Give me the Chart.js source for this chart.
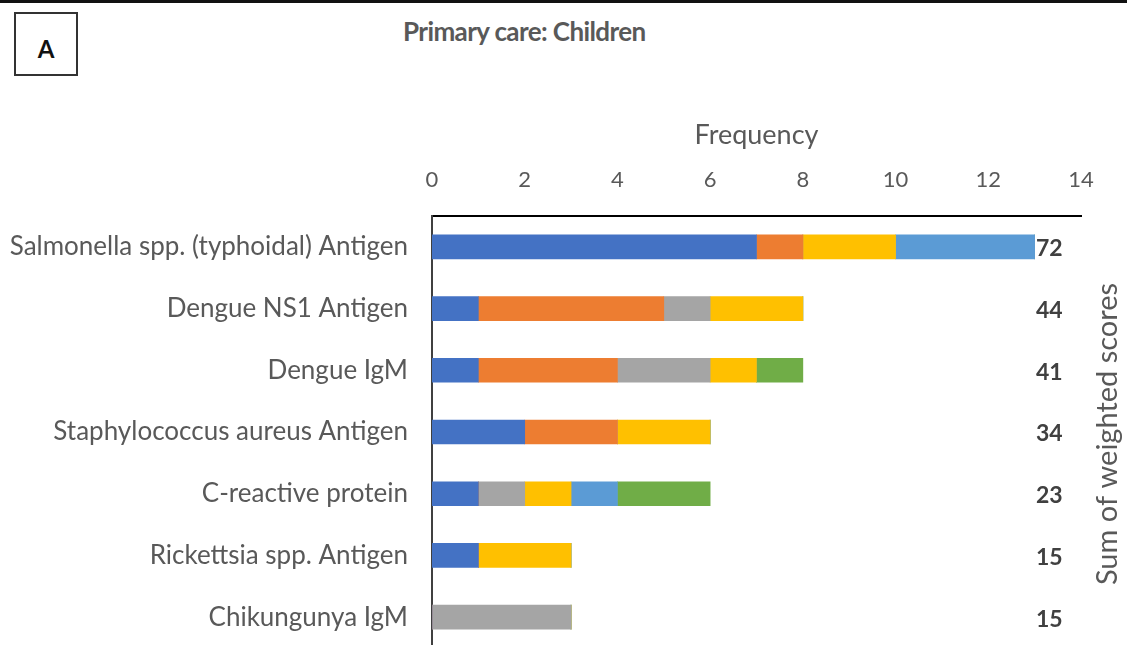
<!DOCTYPE html>
<html>
<head>
<meta charset="utf-8">
<title>Primary care: Children</title>
<script src="https://cdn.jsdelivr.net/npm/chart.js@4"></script>
<style>
  html, body { margin: 0; padding: 0; overflow: hidden; background: #fff; }
  .top-rule { position: absolute; left: 0; top: 0; width: 100%; height: 3px; background: #111; }
  .panel-box {
    position: absolute; left: 14px; top: 12px; width: 60px; height: 52px;
    border: 2px solid #333; font: bold 24px Lato, sans-serif; color: #111;
    display: flex; align-items: center; justify-content: center; padding-top: 8px;
  }
  .chart-title {
    position: absolute; left: 403px; top: 15px;
    font: bold 26px Lato, sans-serif; letter-spacing: -0.6px; color: #595959;
  }
  #chart { position: absolute; left: 0; top: 0; }
</style>
</head>
<body>
<div class="top-rule"></div>
<div class="panel-box">A</div>
<div class="chart-title">Primary care: Children</div>
<canvas id="chart" width="1127" height="650"></canvas>
<script>
  // Categories, top to bottom
  const tests = [
    "Salmonella spp. (typhoidal) Antigen",
    "Dengue NS1 Antigen",
    "Dengue IgM",
    "Staphylococcus aureus Antigen",
    "C-reactive protein",
    "Rickettsia spp. Antigen",
    "Chikungunya IgM",
  ];

  // Sum of weighted scores, shown on the right
  const weightedSums = [72, 44, 41, 34, 23, 15, 15];

  // Frequency per segment (stacked left to right)
  const seriesNames = ["1", "2", "3", "4", "5", "6"];
  const seriesColors = ["#4472C4", "#ED7D31", "#A5A5A5", "#FFC000", "#5B9BD5", "#70AD47"];
  const series1 = [7, 1, 1, 2, 1, 1, 0];
  const series2 = [1, 4, 3, 2, 0, 0, 0];
  const series3 = [0, 1, 2, 0, 1, 0, 3];
  const series4 = [2, 2, 1, 2, 1, 2, 0];
  const series5 = [3, 0, 0, 0, 1, 0, 0];
  const series6 = [0, 0, 1, 0, 2, 0, 0];

  const xTicks = { min: 0, max: 14, step: 2 };

  Chart.defaults.font.family = "Lato, sans-serif";

  // Sums + right-hand axis title
  const sumLabels = {
    id: "sumLabels",
    afterDatasetsDraw(chart) {
      const { ctx, chartArea, scales } = chart;
      ctx.save();
      ctx.font = "bold 23px Lato, sans-serif";
      ctx.fillStyle = "#404040";
      ctx.textAlign = "left";
      ctx.textBaseline = "middle";
      weightedSums.forEach((sum, i) => {
        ctx.fillText(String(sum), chartArea.right - 45, scales.y.getPixelForValue(i) + 2);
      });

      ctx.translate(chartArea.right + 27, (chartArea.top + chartArea.bottom) / 2 + 2);
      ctx.rotate(-Math.PI / 2);
      ctx.font = "29px Lato, sans-serif";
      ctx.fillStyle = "#595959";
      ctx.textAlign = "center";
      ctx.fillText("Sum of weighted scores", 0, 0);
      ctx.restore();
    },
  };

  const allSeries = [series1, series2, series3, series4, series5, series6];

  new Chart(document.getElementById("chart"), {
    type: "bar",
    plugins: [sumLabels],
    data: {
      labels: tests,
      datasets: allSeries.map((values, i) => ({
        label: seriesNames[i],
        data: values,
        backgroundColor: seriesColors[i],
        borderWidth: 0,
        barThickness: 24,
      })),
    },
    options: {
      indexAxis: "y",
      responsive: false,
      animation: false,
      layout: { padding: { top: 0, right: 46, bottom: 2, left: 0 } },
      plugins: {
        legend: { display: false },
        tooltip: { enabled: false },
      },
      scales: {
        x: {
          position: "top",
          stacked: true,
          min: xTicks.min,
          max: xTicks.max,
          ticks: { stepSize: xTicks.step, color: "#595959", font: { size: 22 }, padding: 23 },
          grid: { display: false, drawTicks: false },
          border: { color: "#000", width: 2 },
          title: {
            display: true,
            text: "Frequency",
            color: "#595959",
            font: { size: 27 },
            padding: { top: 119, bottom: 0 },
          },
          afterFit: (scale) => {
            scale.height = 216;
          },
        },
        y: {
          stacked: true,
          ticks: { color: "#595959", font: { size: 26 }, padding: 24 },
          grid: { display: false, drawTicks: false },
          border: { color: "#404040", width: 2 },
          afterFit: (scale) => {
            scale.width = 432;
            // label padding should not shrink the plot area vertically
            scale.paddingTop = 0;
            scale.paddingBottom = 0;
          },
        },
      },
    },
  });
</script>
</body>
</html>
